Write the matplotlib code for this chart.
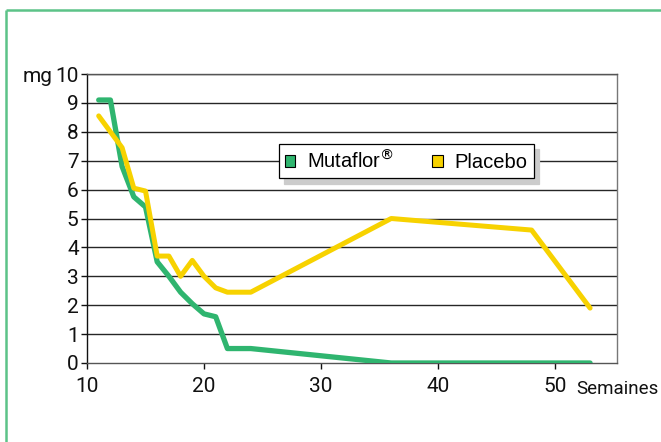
import matplotlib
matplotlib.use("Agg")
import matplotlib.pyplot as plt
from matplotlib.patches import Patch
from matplotlib.lines import Line2D

# Weekly measurements (mg)
weeks_mutaflor = [11, 12, 13, 14, 15, 16, 17, 18, 19, 20, 21, 22, 24, 36, 53]
mg_mutaflor = [9.1, 9.1, 6.8, 5.75, 5.4, 3.5, 3.0, 2.45, 2.05, 1.7, 1.6, 0.5, 0.5, 0.0, 0.0]

weeks_placebo = [11, 12, 13, 14, 15, 16, 17, 18, 19, 20, 21, 22, 24, 36, 48, 53]
mg_placebo = [8.55, 8.0, 7.45, 6.05, 5.95, 3.7, 3.7, 3.0, 3.55, 3.0, 2.6, 2.45, 2.45, 5.0, 4.6, 1.9]

series_names = ["Mutaflor$^{\\circledR}$", "Placebo"]
x_ticks = [10, 20, 30, 40, 50]
y_ticks = list(range(0, 11))

GREEN = "#2fb56f"
YELLOW = "#f7d200"
FRAME = "#5cc388"
INK = "#111111"

plt.rcParams["font.family"] = ["Roboto", "DejaVu Sans"]
plt.rcParams["mathtext.fontset"] = "dejavusans"

W, H = 661, 442
fig = plt.figure(figsize=(W / 100, H / 100), dpi=100)
ax = fig.add_axes([87 / W, 1 - 363 / H, 530 / W, 289 / H])

# outer green frame (top and left edges)
fig.add_artist(Line2D([6 / W, 1.0], [1 - 10 / H, 1 - 10 / H], color=FRAME, lw=1.8,
                      transform=fig.transFigure, solid_capstyle="butt"))
fig.add_artist(Line2D([6 / W, 6 / W], [0, 1 - 10 / H], color=FRAME, lw=1.8,
                      transform=fig.transFigure, solid_capstyle="butt"))

ax.set_xlim(10, 55.3)
ax.set_ylim(0, 10)

for y in y_ticks[1:]:
    ax.axhline(y, color="#262626", lw=1.0, zorder=1)

ax.plot(weeks_mutaflor, mg_mutaflor, color=GREEN, lw=3.8, solid_joinstyle="round",
        solid_capstyle="round", zorder=3)
ax.plot(weeks_placebo, mg_placebo, color=YELLOW, lw=3.6, solid_joinstyle="round",
        solid_capstyle="round", zorder=4)

ax.set_xticks(x_ticks)
ax.set_yticks(y_ticks)
ax.tick_params(axis="both", direction="out", length=4, width=1, labelsize=15,
               colors=INK)
ax.tick_params(axis="y", pad=2)
ax.tick_params(axis="x", pad=6)

ax.spines["left"].set_color(INK)
ax.spines["bottom"].set_color("#555555")
ax.spines["right"].set_color("#777777")
ax.spines["top"].set_color("#555555")
for s in ax.spines.values():
    s.set_linewidth(1.0)

ax.text(-0.065, 10, "mg", transform=ax.get_yaxis_transform(), ha="right",
        va="center_baseline", fontsize=15, color=INK)
ax.text(0.9226, -0.058, "Semaines", transform=ax.transAxes, ha="left", va="top",
        fontsize=13.5, color=INK)

handles = [Patch(facecolor=GREEN, edgecolor="black", lw=0.8),
           Patch(facecolor=YELLOW, edgecolor="black", lw=0.8)]
leg = ax.legend(handles, series_names, ncol=2, loc="upper left",
                bbox_to_anchor=(0.362, 0.758), borderaxespad=0,
                frameon=True, fancybox=False, edgecolor="black",
                handlelength=0.5, handleheight=0.5, handletextpad=0.6,
                columnspacing=1.9, borderpad=0.3,
                prop={"family": ["Liberation Sans", "DejaVu Sans"], "size": 14.5},
                shadow={"ox": 4, "oy": -4, "facecolor": "#cccccc",
                        "edgecolor": "#cccccc", "alpha": 1})
leg.get_frame().set_linewidth(0.9)
leg.set_zorder(6)

fig.savefig("out.png", dpi=100, facecolor="white")
